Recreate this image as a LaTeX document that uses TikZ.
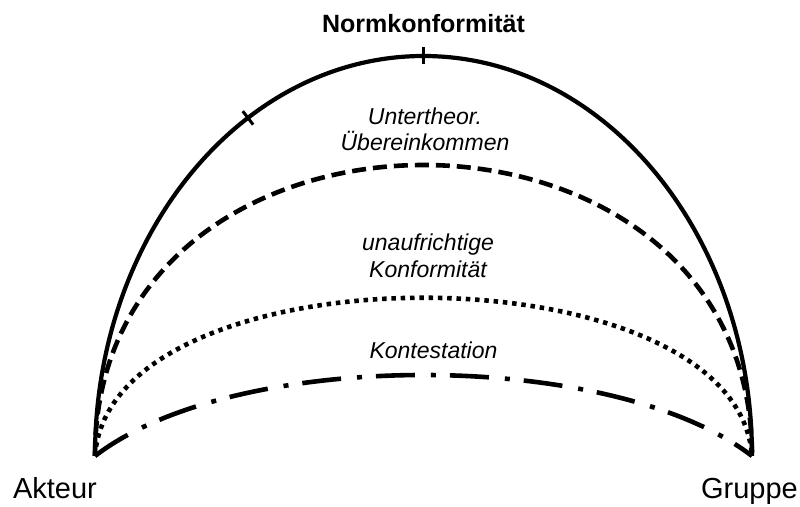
\documentclass[tikz,border=0pt]{standalone}
\usepackage{fontspec}
\setmainfont{Liberation Sans}
\usetikzlibrary{calc}

\begin{document}
\begin{tikzpicture}[x=1pt,y=1pt,line width=4.2pt,
	pole/.style={font=\fontsize{29}{34}\selectfont,anchor=base},
	zone/.style={font=\itshape\fontsize{23}{26.5}\selectfont,align=center},
	dashline/.style={line width=4.6pt,dash pattern=on 14pt off 7pt},
	dotline/.style={line width=4.6pt,dash pattern=on 4.5pt off 4.8pt},
	dashdotline/.style={line width=4.6pt,dash pattern=on 39pt off 16pt on 5pt off 14pt}]
\useasboundingbox (0,0) rectangle (800,506);
\newcommand{\tickmark}[2]{\draw[line width=3pt,shift={#1},rotate=#2] (0,-8.5)--(0,8.5);}

\coordinate (A) at ( 95,50);
\coordinate (G) at (752,50);
\coordinate (M) at ($(A)!0.5!(G)$);
\coordinate (T1) at ($(M)+( 90:328.5 and 400)$); \tickmark{(T1)}{0}
\coordinate (T2) at ($(M)+(122.3:328.5 and 400)$); \tickmark{(T2)}{37.6}

\draw (A) arc[start angle=180,end angle=0,x radius=328.5,y radius=400];
\draw[dashline] (A) .. controls +(0,388) and +(0,388) .. (G);
\draw[dotline] (A) .. controls +(15,211) and +(-15,211) .. (G);
\draw[dashdotline] (A) .. controls +(140,108) and +(-140,108) .. (G);

\node[pole] (akteur) at (55,8) {Akteur};
\node[pole] (gruppe) at (749.5,8) {Gruppe};
\node[font=\bfseries\fontsize{25}{30}\selectfont,anchor=base] (norm) at (423.5,473) {Normkonformität};
\node[zone] (unter) at (425,376.5) {Untertheor.\\Übereinkommen};
\node[zone] (unauf) at (428,250) {unaufrichtige\\Konformität};
\node[zone,anchor=base] (kont) at (433.5,147) {Kontestation};
\end{tikzpicture}
\end{document}
